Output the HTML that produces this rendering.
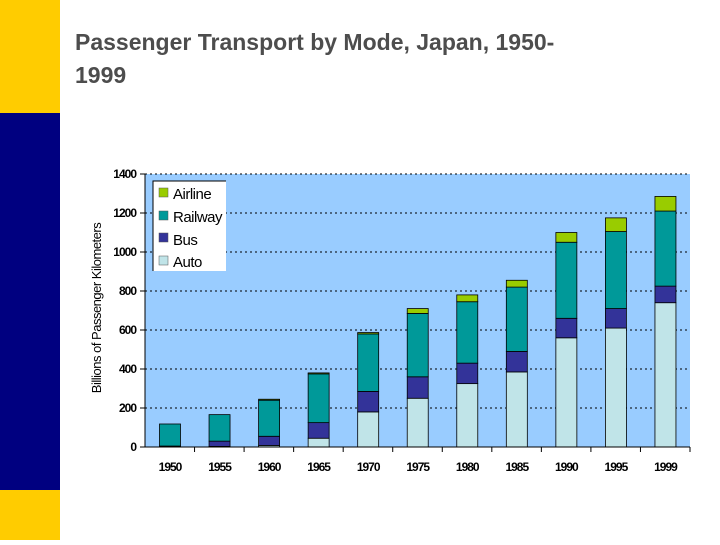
<!DOCTYPE html>
<html><head><meta charset="utf-8"><style>
body{margin:0;width:720px;height:540px;background:#fff;overflow:hidden;font-family:"Liberation Sans",Arial,sans-serif}
</style></head><body>
<svg id="s" width="720" height="540" xmlns="http://www.w3.org/2000/svg" font-family="Liberation Sans, Arial, sans-serif">
<rect x="0" y="0" width="60" height="113" fill="#ffcc00"/>
<rect x="0" y="113" width="60" height="377" fill="#000080"/>
<rect x="0" y="490" width="60" height="50" fill="#ffcc00"/>
<text x="75" y="50" font-size="23" font-weight="bold" fill="#4d4d4d">Passenger Transport by Mode, Japan, 1950-</text>
<text x="75" y="83" font-size="23" font-weight="bold" fill="#4d4d4d">1999</text>
<rect x="145" y="174" width="545" height="273" fill="#99ccff"/>
<g id="g"></g>
<line x1="145" y1="174" x2="145" y2="447" stroke="#000"/>
<line x1="140" y1="447" x2="690" y2="447" stroke="#000"/>
<text transform="translate(101,308) rotate(-90)" text-anchor="middle" font-size="13" letter-spacing="-0.5">Billions of Passenger Kilometers</text>
<rect x="153" y="181" width="73" height="90" fill="#fff"/>
<polyline points="153,271 153,181 226,181" fill="none" stroke="#000" stroke-width="1"/>
<rect x="159" y="188" width="9" height="9" fill="#99cc00" stroke="#555" stroke-width="0.5"/>
<text x="173" y="199" font-size="15" letter-spacing="-0.5">Airline</text>
<rect x="159" y="211" width="9" height="9" fill="#009999" stroke="#555" stroke-width="0.5"/>
<text x="173" y="222" font-size="15" letter-spacing="-0.5">Railway</text>
<rect x="159" y="233" width="9" height="9" fill="#333399" stroke="#555" stroke-width="0.5"/>
<text x="173" y="245" font-size="15" letter-spacing="-0.5">Bus</text>
<rect x="159" y="256" width="9" height="9" fill="#c0e4e8" stroke="#555" stroke-width="0.5"/>
<text x="173" y="267" font-size="15" letter-spacing="-0.5">Auto</text>
</svg>
<script>
var g=document.getElementById('g'),h='';
function Y(v){return 447-0.195*v;}
for(var v=200;v<=1400;v+=200){h+='<line x1="145" y1="'+Y(v)+'" x2="690" y2="'+Y(v)+'" stroke="#000" stroke-width="1" stroke-dasharray="2,3"/>';}
for(var v=0;v<=1400;v+=200){h+='<line x1="140" y1="'+Y(v)+'" x2="145" y2="'+Y(v)+'" stroke="#000"/><text x="136" y="'+(Y(v)+4)+'" text-anchor="end" font-size="12" font-weight="bold" letter-spacing="-1">'+v+'</text>';}
var yrs=['1950','1955','1960','1965','1970','1975','1980','1985','1990','1995','1999'];
var d=[[2,3,113,0],[3,27,136,0],[8,47,185,5],[45,80,250,5],[180,105,295,7],[250,110,325,25],[325,105,315,35],[385,105,330,35],[560,100,390,50],[610,100,395,70],[740,85,385,75]];
var c=['#c0e4e8','#333399','#009999','#99cc00'];
var w=545/11;
for(var i=0;i<11;i++){
 var x=145+i*w+14.5,cum=0;
 for(var k=0;k<4;k++){var v=d[i][k];if(v<=0)continue;var y1=Y(cum+v),y0=Y(cum);h+='<rect x="'+x+'" y="'+y1+'" width="21" height="'+(y0-y1)+'" fill="'+c[k]+'" stroke="#000" stroke-width="0.8"/>';cum+=v;}
 h+='<line x1="'+(145+(i+1)*w)+'" y1="447" x2="'+(145+(i+1)*w)+'" y2="452" stroke="#000"/>';
 h+='<text x="'+(x+10.5)+'" y="471" text-anchor="middle" font-size="12" font-weight="bold" letter-spacing="-1">'+yrs[i]+'</text>';
}
g.innerHTML=h;
</script>
</body></html>
